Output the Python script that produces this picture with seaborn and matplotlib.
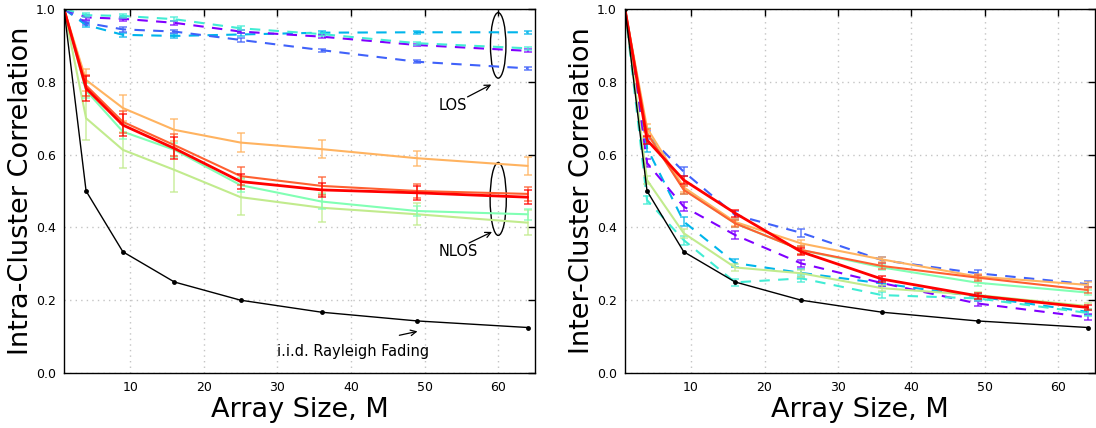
import numpy as np
import pandas as pd
import matplotlib
matplotlib.use("Agg")
import matplotlib.pyplot as plt
from matplotlib.patches import Ellipse
import seaborn as sns

# ---------------- data ----------------
M = [1, 4, 9, 16, 25, 36, 49, 64]
iid = [1.0, 0.5, 0.333, 0.25, 0.2, 0.167, 0.143, 0.125]

# Intra-cluster (left)
intra_los_purple = [1.0, 0.977, 0.973, 0.962, 0.938, 0.924, 0.901, 0.885]
intra_los_blue = [1.0, 0.962, 0.944, 0.938, 0.915, 0.887, 0.855, 0.837]
intra_los_lightblue = [1.0, 0.956, 0.929, 0.926, 0.930, 0.935, 0.936, 0.936]
intra_los_turq = [1.0, 0.983, 0.981, 0.972, 0.947, 0.931, 0.906, 0.892]
intra_los_err = [0, 0.006, 0.006, 0.005, 0.005, 0.004, 0.004, 0.004]

intra_nlos_aq = [1.0, 0.776, 0.663, 0.613, 0.516, 0.471, 0.445, 0.436]
intra_nlos_yg = [1.0, 0.700, 0.613, 0.558, 0.483, 0.454, 0.436, 0.413]
intra_nlos_orange = [1.0, 0.805, 0.728, 0.668, 0.633, 0.615, 0.590, 0.569]
intra_nlos_ored = [1.0, 0.790, 0.690, 0.626, 0.541, 0.514, 0.500, 0.492]
intra_nlos_red = [1.0, 0.782, 0.681, 0.617, 0.526, 0.503, 0.495, 0.483]

intra_err_aq = [0, 0.02, 0.02, 0.02, 0.02, 0.02, 0.015, 0.015]
intra_err_yg = [0, 0.06, 0.05, 0.06, 0.05, 0.04, 0.03, 0.035]
intra_err_orange = [0, 0.03, 0.035, 0.03, 0.025, 0.025, 0.02, 0.025]
intra_err_ored = [0, 0.03, 0.03, 0.03, 0.025, 0.025, 0.02, 0.02]
intra_err_red = [0, 0.035, 0.03, 0.03, 0.02, 0.02, 0.02, 0.02]

# Inter-cluster (right)
inter_los_purple = [1.0, 0.577, 0.457, 0.379, 0.301, 0.247, 0.191, 0.153]
inter_los_blue = [1.0, 0.654, 0.553, 0.434, 0.385, 0.310, 0.274, 0.244]
inter_los_lightblue = [1.0, 0.618, 0.416, 0.302, 0.275, 0.246, 0.210, 0.168]
inter_los_turq = [1.0, 0.475, 0.365, 0.249, 0.260, 0.214, 0.205, 0.165]
inter_nlos_aq = [1.0, 0.660, 0.505, 0.411, 0.338, 0.290, 0.248, 0.221]
inter_nlos_yg = [1.0, 0.530, 0.384, 0.290, 0.274, 0.233, 0.214, 0.184]
inter_nlos_orange = [1.0, 0.673, 0.510, 0.415, 0.356, 0.312, 0.265, 0.242]
inter_nlos_ored = [1.0, 0.659, 0.503, 0.411, 0.338, 0.294, 0.262, 0.228]
inter_nlos_red = [1.0, 0.640, 0.530, 0.439, 0.333, 0.258, 0.212, 0.180]
inter_err = [0, 0.012, 0.012, 0.01, 0.01, 0.008, 0.008, 0.008]

x_ticks = [10, 20, 30, 40, 50, 60]
y_ticks = [0.0, 0.2, 0.4, 0.6, 0.8, 1.0]

# ---------------- style ----------------
sns.set_style("white")
plt.rcParams['font.family'] = ['DejaVu Sans']
plt.rcParams['text.color'] = 'black'
plt.rcParams['axes.labelcolor'] = 'black'

cmap = plt.get_cmap('rainbow')
c_purple, c_blue, c_lblue, c_turq, c_aq, c_yg, c_orange, c_ored, c_red = [cmap(v) for v in np.linspace(0, 1, 9)]

fig = plt.figure(figsize=(10.96, 4.28), dpi=100)
axL = fig.add_axes([64/1096, 55/428, 471/1096, 364/428])
axR = fig.add_axes([625/1096, 55/428, 470/1096, 364/428])


def draw(ax, y, color, dashed=False, err=None, lw=1.5):
    df = pd.DataFrame({"M": M, "v": y})
    sns.lineplot(data=df, x="M", y="v", ax=ax, color=color, linewidth=lw,
                 linestyle=(0, (5, 4)) if dashed else '-', errorbar=None, legend=False)
    if err is not None:
        ax.errorbar(M[1:], y[1:], yerr=err[1:], fmt='none', ecolor=color,
                    alpha=0.75, capsize=3, elinewidth=1.2, capthick=1.2)


# left
for y, c in [(intra_los_lightblue, c_lblue), (intra_los_blue, c_blue),
             (intra_los_purple, c_purple), (intra_los_turq, c_turq)]:
    draw(axL, y, c, dashed=True, err=intra_los_err)
draw(axL, intra_nlos_yg, c_yg, err=intra_err_yg)
draw(axL, intra_nlos_aq, c_aq, err=intra_err_aq)
draw(axL, intra_nlos_orange, c_orange, err=intra_err_orange)
draw(axL, intra_nlos_ored, c_ored, err=intra_err_ored)
draw(axL, intra_nlos_red, c_red, err=intra_err_red, lw=2)
sns.lineplot(x=M, y=iid, ax=axL, color='black', linewidth=1, marker='o',
             markersize=3.5, markeredgewidth=0, errorbar=None)

# right
for y, c in [(inter_los_lightblue, c_lblue), (inter_los_blue, c_blue),
             (inter_los_purple, c_purple), (inter_los_turq, c_turq)]:
    draw(axR, y, c, dashed=True, err=inter_err)
draw(axR, inter_nlos_yg, c_yg, err=inter_err)
draw(axR, inter_nlos_aq, c_aq, err=inter_err)
draw(axR, inter_nlos_orange, c_orange, err=inter_err)
draw(axR, inter_nlos_ored, c_ored, err=inter_err)
draw(axR, inter_nlos_red, c_red, err=inter_err, lw=2)
sns.lineplot(x=M, y=iid, ax=axR, color='black', linewidth=1, marker='o',
             markersize=3.5, markeredgewidth=0, errorbar=None)

for ax, lab in [(axL, "Intra-Cluster Correlation"), (axR, "Inter-Cluster Correlation")]:
    ax.set_xlim(1, 65)
    ax.set_ylim(0, 1)
    ax.set_xticks(x_ticks)
    ax.set_yticks(y_ticks)
    ax.set_yticklabels([f"{t:.1f}" for t in y_ticks])
    ax.grid(True, color='#c4c4c4', linestyle=(0, (1, 3)), linewidth=1)
    ax.tick_params(direction='in', length=5, width=1, top=True, right=True,
                   labelsize=9, colors='black', pad=6)
    for s in ax.spines.values():
        s.set_color('black')
        s.set_linewidth(1)
    ax.set_xlabel("Array Size, M", fontsize=19.5, labelpad=2, color='black')
    ax.set_ylabel(lab, fontsize=19.5, labelpad=1, color='black')

# annotations (left)
axL.add_patch(Ellipse((60, 0.90), 2.1, 0.18, fill=False, edgecolor='black', linewidth=1))
axL.add_patch(Ellipse((60, 0.478), 2.2, 0.20, fill=False, edgecolor='black', linewidth=1))
arrow = dict(arrowstyle='->', color='black', linewidth=0.9)
axL.annotate("", xy=(59.4, 0.796), xytext=(55.5, 0.755), arrowprops=arrow)
axL.text(53.9, 0.735, "LOS", fontsize=10.5, ha='center', va='center')
axL.annotate("", xy=(59.5, 0.391), xytext=(55.7, 0.354), arrowprops=arrow)
axL.text(54.6, 0.333, "NLOS", fontsize=10.5, ha='center', va='center')
axL.annotate("", xy=(49.4, 0.116), xytext=(46.2, 0.102), arrowprops=arrow)
axL.text(40.3, 0.060, "i.i.d. Rayleigh Fading", fontsize=10.5, ha='center', va='center')

fig.savefig("out.png", dpi=100)
